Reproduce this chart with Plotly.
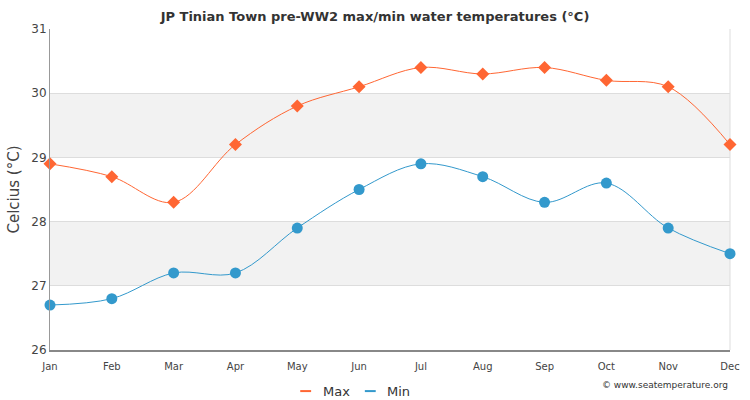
import plotly.graph_objects as go

months = ["Jan", "Feb", "Mar", "Apr", "May", "Jun", "Jul", "Aug", "Sep", "Oct", "Nov", "Dec"]
max_temp = [28.9, 28.7, 28.3, 29.2, 29.8, 30.1, 30.4, 30.3, 30.4, 30.2, 30.1, 29.2]
min_temp = [26.7, 26.8, 27.2, 27.2, 27.9, 28.5, 28.9, 28.7, 28.3, 28.6, 27.9, 27.5]
series_names = ["Max", "Min"]

max_color = "#ff6633"
min_color = "#3399cc"
font = "DejaVu Sans"

fig = go.Figure()

# grey bands 27-28 and 29-30
for y0, y1 in [(27, 28), (29, 30)]:
    fig.add_shape(type="rect", xref="paper", yref="y", x0=0, x1=1, y0=y0, y1=y1,
                  fillcolor="#f2f2f2", line_width=0, layer="below")
# thin border on the right side of the plot
fig.add_shape(type="line", xref="paper", yref="paper", x0=1, x1=1, y0=0, y1=1,
              line=dict(color="#dddddd", width=1), layer="below")

fig.add_trace(go.Scatter(x=months, y=max_temp, mode="lines+markers", name=series_names[0],
                         line=dict(color=max_color, width=1, shape="spline"),
                         marker=dict(symbol="diamond", size=10, color=max_color),
                         cliponaxis=False, showlegend=False))
fig.add_trace(go.Scatter(x=months, y=min_temp, mode="lines+markers", name=series_names[1],
                         line=dict(color=min_color, width=1, shape="spline"),
                         marker=dict(symbol="circle", size=11, color=min_color),
                         cliponaxis=False, showlegend=False))

# hand-made legend below the plot (short dash + label), so it doesn't push the margins
legend_y = -0.128
for name, color, x0 in [(series_names[0], max_color, 0.368), (series_names[1], min_color, 0.463)]:
    fig.add_shape(type="line", xref="paper", yref="paper", x0=x0, x1=x0 + 0.016,
                  y0=legend_y, y1=legend_y, line=dict(color=color, width=2))
    fig.add_annotation(text=name, xref="paper", yref="paper", x=x0 + 0.03, xanchor="left",
                       y=legend_y, yanchor="middle", showarrow=False,
                       font=dict(size=13, color="#333333"))

fig.add_annotation(text="© www.seatemperature.org", xref="paper", yref="paper",
                   x=1, xanchor="right", y=-0.109, yanchor="middle", showarrow=False,
                   font=dict(size=9, color="#333333"))

fig.update_layout(
    width=750, height=400,
    margin=dict(l=50, r=20, t=29, b=50),
    paper_bgcolor="white", plot_bgcolor="white",
    font=dict(family=font, color="#333333", size=11),
    showlegend=False,
    title=dict(text="<b>JP Tinian Town pre-WW2 max/min water temperatures (°C)</b>",
               x=0.5, xanchor="center", y=0.96, yanchor="middle",
               font=dict(size=13, color="#333333")),
    xaxis=dict(type="category", range=[0, 11], showgrid=False, automargin=False,
               showline=True, linecolor="#888888", linewidth=2,
               ticks="outside", ticklen=6, tickcolor="rgba(0,0,0,0)",
               tickfont=dict(size=10, color="#444444")),
    yaxis=dict(range=[26, 31], dtick=1, showgrid=True, gridcolor="#dddddd",
               showline=True, linecolor="#999999", linewidth=1, automargin=False,
               zeroline=False, ticks="", tickfont=dict(size=12, color="#444444"),
               title=dict(text="Celcius (°C)", font=dict(size=15, color="#444444"), standoff=8)),
)

fig.write_html("out.html", config={"displayModeBar": False},
               post_script="document.body.style.margin='0';")
